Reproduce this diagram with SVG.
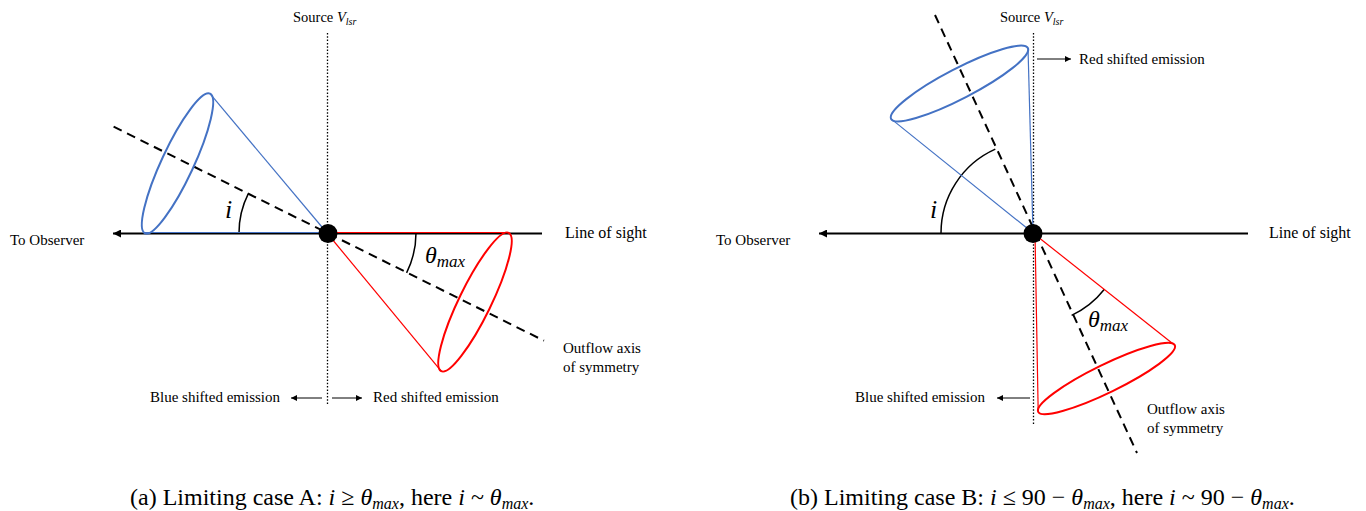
<svg xmlns="http://www.w3.org/2000/svg" width="1366" height="511" viewBox="0 0 1366 511">
<style>
text{font-family:"Liberation Serif","Times New Roman",serif;fill:#000}
.lbl{font-size:15px}
.los{font-size:16px}
.src{font-size:14.5px}
.cap{font-size:24px}
.it{font-style:italic}
.sym{font-style:italic;font-size:26px}
.th{font-style:italic;font-size:24px}
.sub{font-style:italic;font-size:17px}
.losline{stroke:#000;stroke-width:2;fill:none}
.dotted{stroke:#000;stroke-width:1.3;stroke-dasharray:1.5 1.8;fill:none}
.axis{stroke:#000;stroke-width:2;stroke-dasharray:9 6;fill:none}
.blue{stroke:#4472C4;fill:none}
.red{stroke:#FF0000;fill:none}
.gen{stroke-width:1.2}
.rim{stroke-width:2}
.arc{stroke:#000;stroke-width:1.5;fill:none}
.thin{stroke:#000;stroke-width:1;fill:none}
</style>
<defs>
<marker id="bigArrow" viewBox="0 0 10 10" refX="10" refY="5" markerUnits="userSpaceOnUse" markerWidth="11" markerHeight="8" orient="auto">
<path d="M0,0 L10,5 L0,10 z" fill="#000"/>
</marker>
<marker id="smallArrow" viewBox="0 0 10 10" refX="10" refY="5" markerUnits="userSpaceOnUse" markerWidth="8" markerHeight="6" orient="auto">
<path d="M0,0 L10,5 L0,10 z" fill="#000"/>
</marker>
</defs>

<!-- ===== Panel A ===== -->
<g id="panelA">
<g id="connectorsA">
<line id="losA" class="losline" x1="542" y1="233.5" x2="113" y2="233.5" marker-end="url(#bigArrow)"/>
<line id="vlsrA" class="dotted" x1="327.5" y1="33" x2="327.5" y2="405"/>
<line id="axisA" class="axis" x1="113.6" y1="126.7" x2="544" y2="340.7"/>
<line id="blueArrowA" class="thin" x1="322" y1="398" x2="291" y2="398" marker-end="url(#smallArrow)"/>
<line id="redArrowA" class="thin" x1="332" y1="398" x2="362" y2="398" marker-end="url(#smallArrow)"/>
<path id="arcIA" class="arc" d="M239,233 A88,88 0 0 1 248.3,193.7"/>
<path id="arcThA" class="arc" d="M416,233 A89,89 0 0 1 406.6,272.8"/>
</g>
<g id="blueConeA">
<line class="blue gen" x1="327" y1="233" x2="210" y2="93.7"/>
<line class="blue gen" x1="327" y1="232.5" x2="145" y2="232.5"/>
<ellipse class="blue rim" cx="177.5" cy="163.5" rx="77" ry="16" transform="rotate(-65 177.5 163.5)"/>
</g>
<g id="redConeA">
<line class="red gen" x1="327" y1="233" x2="441.2" y2="371.2"/>
<line class="red gen" x1="327" y1="232.5" x2="508.8" y2="232.5"/>
<ellipse class="red rim" cx="475" cy="302" rx="77" ry="16" transform="rotate(-64 475 302)"/>
</g>
<g id="sourceA">
<circle cx="328" cy="233.5" r="9.5" fill="#000"/>
</g>
<g id="labelsA">
<text class="src" x="293" y="22">Source <tspan class="it">V</tspan><tspan class="it" font-size="10" dy="3">lsr</tspan></text>
<text class="lbl" x="10" y="245">To Observer</text>
<text class="los" x="565" y="238">Line of sight</text>
<text class="lbl" x="563" y="353">Outflow axis</text>
<text class="lbl" x="563" y="372">of symmetry</text>
<text class="lbl" x="150" y="402">Blue shifted emission</text>
<text class="lbl" x="373" y="402">Red shifted emission</text>
<text class="sym" x="225" y="218">i</text>
<text x="425" y="263"><tspan class="th">θ</tspan><tspan class="sub" dy="4">max</tspan></text>
</g>
<text id="captionA" class="cap" x="130" y="505">(a) Limiting case A: <tspan class="it">i</tspan> ≥ <tspan class="it">θ</tspan><tspan class="it" font-size="16" dy="4">max</tspan><tspan dy="-4">, here </tspan><tspan class="it">i</tspan> ~ <tspan class="it">θ</tspan><tspan class="it" font-size="16" dy="4">max</tspan><tspan dy="-4">.</tspan></text>
</g>

<!-- ===== Panel B ===== -->
<g id="panelB">
<g id="connectorsB">
<line id="losB" class="losline" x1="1248" y1="233.5" x2="819" y2="233.5" marker-end="url(#bigArrow)"/>
<line id="vlsrB" class="dotted" x1="1033.5" y1="33" x2="1033.5" y2="424"/>
<line id="axisB" class="axis" x1="935" y1="15" x2="1137" y2="453"/>
<line id="redArrowB" class="thin" x1="1037" y1="59" x2="1071" y2="59" marker-end="url(#smallArrow)"/>
<line id="blueArrowB" class="thin" x1="1030" y1="398" x2="997" y2="398" marker-end="url(#smallArrow)"/>
<path id="arcIB" class="arc" d="M941,233 A92,92 0 0 1 995.3,149.1"/>
<path id="arcThB" class="arc" d="M1104.4,289.3 A91,91 0 0 1 1071.6,315.4"/>
</g>
<g id="blueConeB">
<line class="blue gen" x1="1033" y1="233" x2="1028" y2="48.1"/>
<line class="blue gen" x1="1033" y1="233" x2="891.1" y2="118.9"/>
<ellipse class="blue rim" cx="959.5" cy="83.5" rx="77" ry="15" transform="rotate(-27.4 959.5 83.5)"/>
</g>
<g id="redConeB">
<line class="red gen" x1="1035" y1="233" x2="1038.2" y2="411.8"/>
<line class="red gen" x1="1033" y1="233" x2="1174.8" y2="345.2"/>
<ellipse class="red rim" cx="1106.5" cy="378.5" rx="76" ry="14" transform="rotate(-26 1106.5 378.5)"/>
</g>
<g id="sourceB">
<circle cx="1033" cy="233.5" r="9.5" fill="#000"/>
</g>
<g id="labelsB">
<text class="src" x="1000" y="22">Source <tspan class="it">V</tspan><tspan class="it" font-size="10" dy="3">lsr</tspan></text>
<text class="lbl" x="716" y="245">To Observer</text>
<text class="los" x="1269" y="238">Line of sight</text>
<text class="lbl" x="1079" y="64">Red shifted emission</text>
<text class="lbl" x="855" y="402">Blue shifted emission</text>
<text class="lbl" x="1147" y="414">Outflow axis</text>
<text class="lbl" x="1147" y="433">of symmetry</text>
<text class="sym" x="930" y="218">i</text>
<text x="1088" y="327"><tspan class="th">θ</tspan><tspan class="sub" dy="4">max</tspan></text>
</g>
<text id="captionB" class="cap" x="790" y="505">(b) Limiting case B: <tspan class="it">i</tspan> ≤ 90 − <tspan class="it">θ</tspan><tspan class="it" font-size="16" dy="4">max</tspan><tspan dy="-4">, here </tspan><tspan class="it">i</tspan> ~ 90 − <tspan class="it">θ</tspan><tspan class="it" font-size="16" dy="4">max</tspan><tspan dy="-4">.</tspan></text>
</g>
</svg>
